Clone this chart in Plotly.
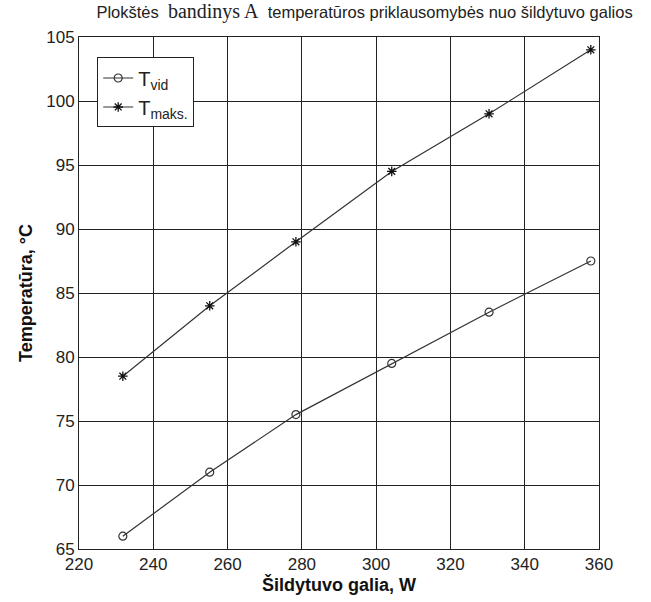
import plotly.graph_objects as go

power = [231.8, 255.2, 278.4, 304.2, 330.4, 357.8]
t_vid = [66.0, 71.0, 75.5, 79.5, 83.5, 87.5]
t_maks = [78.5, 84.0, 89.0, 94.5, 99.0, 104.0]
x_ticks = [220, 240, 260, 280, 300, 320, 340, 360]
y_ticks = [65, 70, 75, 80, 85, 90, 95, 100, 105]

fig = go.Figure()
fig.add_trace(go.Scatter(x=power, y=t_vid, mode="lines+markers", name="T<sub>vid</sub>",
                         line=dict(color="#333333", width=1.2),
                         marker=dict(symbol="circle-open", size=8, color="#333333", line=dict(width=1.2))))
fig.add_trace(go.Scatter(x=power, y=t_maks, mode="lines+markers", name="T<sub>maks.</sub>",
                         line=dict(color="#333333", width=1.2),
                         marker=dict(symbol="asterisk-open", size=8, color="#111111", line=dict(width=1.3))))

axis_common = dict(showgrid=True, gridcolor="#222222", gridwidth=1, showline=True, linecolor="#222222",
                   linewidth=1, mirror=True, ticks="inside", ticklen=3, tickcolor="#222222",
                   zeroline=False, tickfont=dict(family="Liberation Sans, Arial", size=17, color="#222222"))

fig.update_xaxes(range=[220, 360], tickvals=x_ticks, ticktext=[str(v) for v in x_ticks],
                 title=dict(text="<b>Šildytuvo galia, W</b>", font=dict(family="Liberation Sans, Arial", size=18, color="#111111"), standoff=4),
                 **axis_common)
fig.update_yaxes(range=[65, 105], tickvals=y_ticks, ticktext=[str(v) for v in y_ticks],
                 title=dict(text="<b>Temperatūra, °C</b>", font=dict(family="Liberation Sans, Arial", size=18, color="#111111"), standoff=8),
                 **axis_common)

fig.update_layout(
    width=651, height=602,
    margin=dict(l=79, r=52, t=37, b=53),
    paper_bgcolor="white", plot_bgcolor="white",
    title=dict(text="Plokštės  <span style=\"font-family:'Liberation Serif', 'Times New Roman', serif; font-size:20px\">bandinys A</span>  temperatūros priklausomybės nuo šildytuvo galios",
               font=dict(family="Liberation Sans, Arial", size=16.5, color="#222222"),
               x=0.56, xanchor="center", y=0.99, yanchor="top"),
    legend=dict(x=0.035, y=0.96, xanchor="left", yanchor="top", bgcolor="white",
                bordercolor="#222222", borderwidth=1,
                font=dict(family="Liberation Sans, Arial", size=20, color="#222222"),
                tracegroupgap=2),
    showlegend=True,
)

fig.write_html("out.html")
